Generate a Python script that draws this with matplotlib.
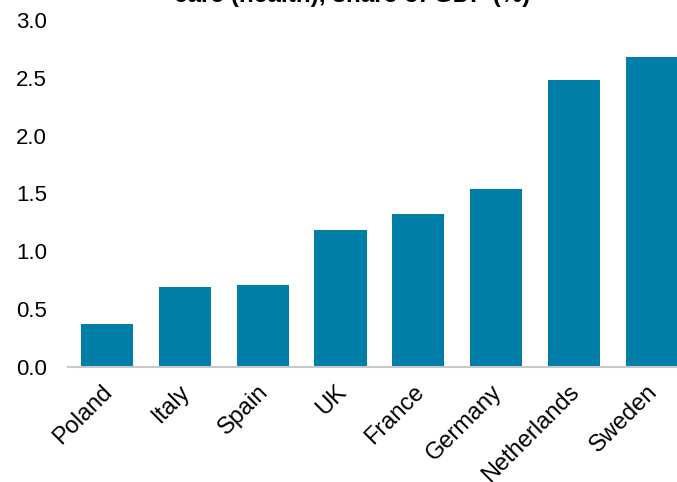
import matplotlib.pyplot as plt
from matplotlib.transforms import ScaledTranslation

countries = ['Poland', 'Italy', 'Spain', 'UK', 'France', 'Germany', 'Netherlands', 'Sweden']
values = [0.37, 0.69, 0.71, 1.18, 1.32, 1.54, 2.48, 2.68]
yticks = [0.0, 0.5, 1.0, 1.5, 2.0, 2.5, 3.0]

plt.rcParams['font.family'] = ['Liberation Sans', 'DejaVu Sans']

fig = plt.figure(figsize=(6.77, 4.82), dpi=100)
ax = fig.add_axes([0.1004, 0.2386, 0.920, 0.72])

x = range(len(countries))
ax.bar(x, values, width=0.67, color='#007EA7')

ax.set_xlim(-0.5, 7.5)
ax.set_ylim(0, 3.0)
ax.set_yticks(yticks)
ax.set_yticklabels([f'{v:.1f}' for v in yticks], fontsize=16)
ax.set_xticks(list(x))
ax.set_xticklabels(countries, rotation=45, ha='right', rotation_mode='anchor', fontsize=17)
ax.tick_params(axis='y', length=0, pad=15)
ax.tick_params(axis='x', length=0, pad=8)

# nudge the rotated labels a little left/down
offset = ScaledTranslation(-4 / 72, -2 / 72, fig.dpi_scale_trans)
for lab in ax.get_xticklabels():
    lab.set_transform(lab.get_transform() + offset)

for s in ['top', 'right', 'left']:
    ax.spines[s].set_visible(False)
ax.spines['bottom'].set_color('#c8c8c8')
ax.spines['bottom'].set_linewidth(1.5)

# title is partly cut off at the top of the image, as in the source
fig.text(0.52, 1 - 7 / 482, 'Public expenditure on long-term\ncare (health), share of GDP (%)',
         ha='center', va='bottom', fontsize=17.5, fontweight='bold', linespacing=1.2)

fig.savefig('out.png', dpi=100)
